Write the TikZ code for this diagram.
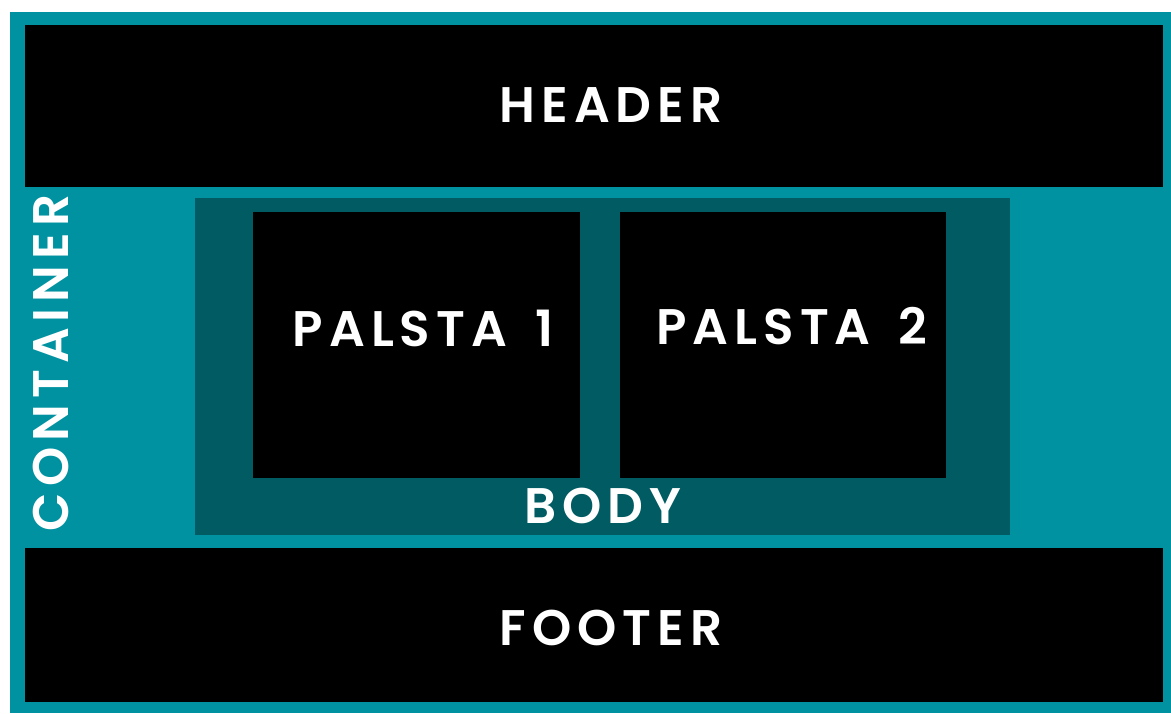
\documentclass[tikz,border=0pt]{standalone}
\usepackage{fontspec}
\setmainfont{Poppins}[LetterSpace=12, BoldFont={Poppins SemiBold}]
\definecolor{tealout}{HTML}{0092A0}
\definecolor{tealbody}{HTML}{005B62}
\begin{document}
\begin{tikzpicture}[x=1pt, y=-1pt,
  box/.style={fill=black, inner sep=0pt, outer sep=0pt},
  lbl/.style={text=white, font=\fontsize{50}{50}\selectfont\bfseries, inner sep=0pt}]
  \useasboundingbox (0,0) rectangle (1171,713);
  \fill[tealout] (10,12) rectangle (1171,713);
  % main blocks
  \node[box, minimum width=1138pt, minimum height=162pt] (header) at (594,106) {};
  \node[box, minimum width=1138pt, minimum height=154pt] (footer) at (594,625) {};
  \node[box, fill=tealbody, minimum width=815pt, minimum height=337pt] (body) at (602.5,366.5) {};
  \node[box, minimum width=327pt, minimum height=266pt] (col1) at (416.5,345) {};
  \node[box, minimum width=326pt, minimum height=266pt] (col2) at (783,345) {};
  % labels
  \node[lbl] (headerlbl) at (611,105) {HEADER};
  \node[lbl] (footerlbl) at (611,628) {FOOTER};
  \node[lbl] (bodylbl) at (603,506) {BODY};
  \node[lbl] (col1lbl) at (423,328) {PALSTA\hspace{28pt}1};
  \node[lbl] (col2lbl) at (792,326) {PALSTA\hspace{28pt}2};
  \node[lbl, rotate=90] (containerlbl) at (51,363) {CONTAINER};
\end{tikzpicture}
\end{document}
